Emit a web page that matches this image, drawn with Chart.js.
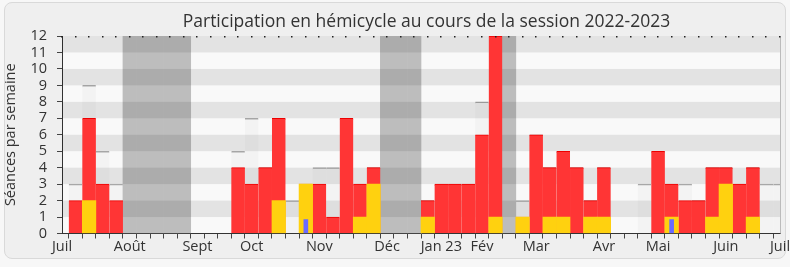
<!DOCTYPE html>
<html>
<head>
<meta charset="utf-8">
<script src="https://cdn.jsdelivr.net/npm/chart.js@4.4.0/dist/chart.umd.min.js"></script>
<style>
  body { margin: 0; background: #f7f7f7; }
  #wrap { position: relative; width: 790px; height: 267px; }
  #cadre { position: absolute; left: 4px; top: 2px; width: 780px; height: 255px;
           background: #efefef; border: 1px solid #d9d9d9; border-radius: 8px; }
  canvas { position: absolute; left: 0; top: 0; }
</style>
</head>
<body>
<div id="wrap">
  <div id="cadre"></div>
  <canvas id="graphique" width="790" height="267"></canvas>
</div>
<script>
// ===============================
// Données (une valeur par semaine, juillet 2022 -> juillet 2023)
// ===============================
const titre = 'Participation en hémicycle au cours de la session 2022-2023';

const etiquettes = ['Juil','','','','','Août','','','','','Sept','','','','Oct','','','','','Nov',
  '','','','','Déc','','','','Jan 23','','','Fév','','','','Mar','','','','','Avr','','','',
  'Mai','','','','','Juin','','','','Juil'];

// séances de la semaine (gris clair)
const seances = [null,3,9,5,3, null,null,null,null,null, null,null,null,5,7, 4,7,2,3,4,
  4,7,3,4,null, null,null,2,3,3, 3,8,12,null,2, 6,4,5,4,2, 4,null,null,3,5, 3,3,2,4,4, 3,4,3,3];

// présences (rouge)
const presences = [null,2,7,3,2, null,null,null,null,null, null,null,null,4,3, 4,7,null,3,3,
  1,7,3,4,null, null,null,2,3,3, 3,6,12,null,1, 6,4,5,4,2, 4,null,null,null,5, 3,2,2,4,4, 3,4,null,null];

// interventions (jaune)
const interventions = [null,null,2,null,null, null,null,null,null,null, null,null,null,null,null,
  null,2,null,3,null, null,null,1,3,null, null,null,1,null,null, null,null,1,null,1,
  null,1,1,null,1, 1,null,null,null,null, 1,null,null,1,3, null,1,null,null];

// questions orales (bleu)
const questions = [null,null,null,null,null, null,null,null,null,null, null,null,null,null,null,
  null,null,null,0.85,null, null,null,null,null,null, null,null,null,null,null, null,null,null,null,null,
  null,null,null,null,null, null,null,null,null,null, 0.85,null,null,null,null, null,null,null,null];

// vacances parlementaires (gris foncé)
const vacances = [null,null,null,null,null, 12,12,12,12,12, null,null,null,null,null,
  null,null,null,null,null, null,null,null,null,12, 12,12,null,null,null, null,null,null,12,null,
  null,null,null,null,null, null,null,null,null,null, null,null,null,null,null, null,null,null,null];

const IDX_VACANCES = 1;
const POLICE = 'Open Sans';

// ===============================
// Plugin : fond, bandes horizontales, cadre, titre
// ===============================
const decor = {
  id: 'decor',
  beforeDraw(chart) {
    const { ctx, chartArea: a } = chart;
    ctx.save();
    ctx.fillStyle = '#f9f9f9';
    ctx.fillRect(a.left, a.top, a.right - a.left, a.bottom - a.top);
    ctx.restore();
  },
  afterDatasetDraw(chart, args) {
    if (args.index !== IDX_VACANCES) return;
    const { ctx, chartArea: a, scales: { y } } = chart;
    ctx.save();
    ctx.fillStyle = 'rgba(0,0,0,0.085)';
    for (let v = 1; v < 12; v += 2) {
      const y1 = y.getPixelForValue(v + 1), y0 = y.getPixelForValue(v);
      ctx.fillRect(a.left, y1, a.right - a.left, y0 - y1);
    }
    ctx.restore();
  },
  afterDraw(chart) {
    const { ctx, chartArea: a, scales: { x } } = chart;
    ctx.save();
    ctx.strokeStyle = '#bbbbbb';
    ctx.lineWidth = 1;
    ctx.beginPath();
    ctx.moveTo(Math.round(a.right) + 0.5, a.top);
    ctx.lineTo(Math.round(a.right) + 0.5, a.bottom);
    ctx.stroke();
    ctx.fillStyle = '#222';
    x.ticks.forEach((t, i) => {
      const px = x.getPixelForTick(i);
      ctx.fillRect(Math.round(px) - 1, a.top, 1.5, 1.5);
    });
    // titre
    ctx.fillStyle = '#333';
    ctx.font = '17.5px "' + POLICE + '"';
    ctx.textAlign = 'center';
    ctx.textBaseline = 'alphabetic';
    ctx.fillText(titre, 426.5, 26.5);
    ctx.restore();
  }
};

// ===============================
// Graphique
// ===============================
const ctx = document.getElementById('graphique').getContext('2d');
const commun = { grouped: false, categoryPercentage: 1, barPercentage: 1, clip: 0 };

new Chart(ctx, {
  type: 'bar',
  data: {
    labels: etiquettes,
    datasets: [
      { ...commun, label: 'Séances', data: seances, order: 4,
        backgroundColor: '#f3f3f3', borderColor: '#a9a9a9',
        borderWidth: { top: 1.5, left: 0, right: 0, bottom: 0 }, borderSkipped: 'start' },
      { ...commun, label: 'Vacances', data: vacances, order: 3,
        backgroundColor: '#bdbdbd', borderWidth: 0 },
      { ...commun, label: 'Présences', data: presences, order: 2,
        backgroundColor: '#ff3535', borderColor: '#ee0000',
        borderWidth: { top: 1, left: 0, right: 0, bottom: 0 }, borderSkipped: 'start' },
      { ...commun, label: 'Interventions', data: interventions, order: 1,
        backgroundColor: '#ffd10f', borderWidth: 0 },
      { ...commun, label: 'Questions', data: questions, order: 0,
        barThickness: 4, backgroundColor: '#6a6aff', borderWidth: 0 }
    ]
  },
  options: {
    responsive: false,
    animation: false,
    layout: { padding: { left: 0, right: 10, top: 36, bottom: 0 } },
    plugins: {
      legend: { display: false },
      tooltip: { enabled: false },
      title: { display: false }
    },
    scales: {
      x: {
        offset: false,
        grid: { display: true, drawOnChartArea: false, drawTicks: true, tickLength: 5, color: '#444' },
        border: { display: true, color: '#333', width: 1 },
        ticks: {
          autoSkip: false, maxRotation: 0, padding: 0, color: '#333',
          font: { family: POLICE, size: 14.5 }
        },
        afterFit(s) { s.height = 33.5; s.paddingLeft = 0; s.paddingRight = 0; }
      },
      y: {
        min: 0, max: 12,
        grid: { display: true, drawOnChartArea: false, drawTicks: true, tickLength: 5, color: '#444' },
        border: { display: true, color: '#333', width: 1 },
        ticks: { stepSize: 1, autoSkip: false, padding: 10, color: '#333',
                 font: { family: POLICE, size: 14.5 } },
        title: {
          display: true, text: 'Séances par semaine', color: '#333',
          font: { family: POLICE, size: 14.5 }, padding: { top: 2, bottom: 0 }
        },
        afterFit(s) { s.width = 62; s.paddingTop = 0; }
      }
    }
  },
  plugins: [decor]
});
</script>
</body>
</html>
